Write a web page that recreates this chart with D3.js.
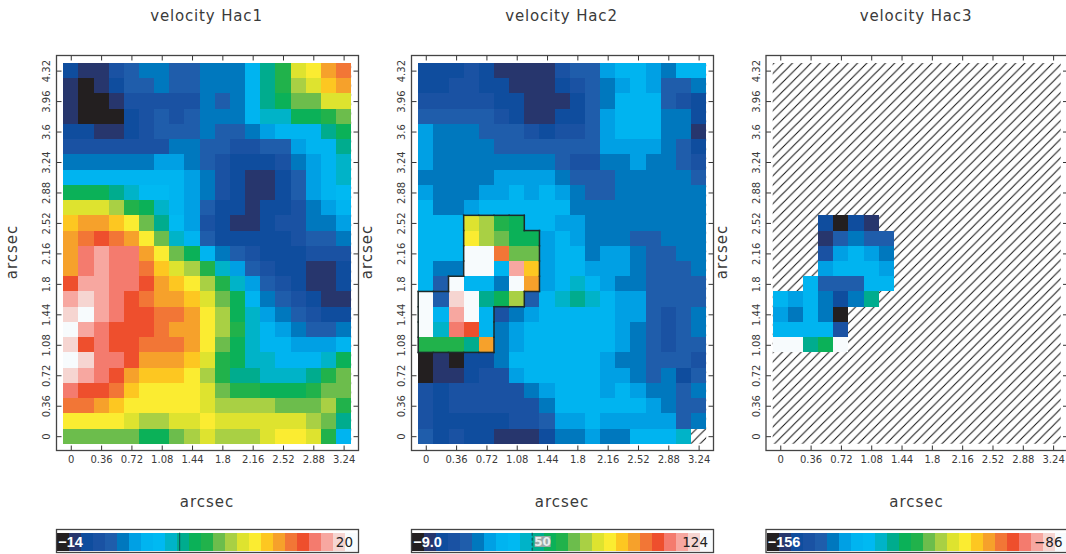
<!DOCTYPE html>
<html>
<head>
<meta charset="utf-8">
<script src="https://cdn.jsdelivr.net/npm/d3@7"></script>
<style>
  html, body { margin: 0; padding: 0; background: #fff; overflow: hidden; }
  text { font-family: "DejaVu Sans", sans-serif; fill: #3a3a3a; }
</style>
</head>
<body>
<div id="plot"></div>
<script>
// Colour table of the images (level 0 .. 24)
const levelColors = [
  "#231f20", "#27366d", "#0f4d9e", "#1a52a3", "#1f5dab", "#0078be", "#00a0e4", "#00b4f0",
  "#00b9f2", "#00b3c8", "#00ac8e", "#0bb158", "#21b24b", "#6cbd4c", "#a9d044", "#dee32f",
  "#fbec31", "#fdc721", "#f6a12b", "#f27636", "#ee4f2d", "#f47b6e", "#f7a7a0", "#f6d5d1",
  "#f7fbfd"
];

// Pixel levels, first row is the top of the image (y = 4.32)
const hac1 = [
  [2,1,1,3,4,5,5,4,4,5,5,5,7,10,12,15,16,18,19],
  [1,0,1,2,4,4,5,4,4,5,5,5,7,10,12,14,15,17,18],
  [1,0,0,1,3,3,3,3,3,5,4,5,7,10,11,13,13,15,15],
  [1,0,0,0,2,3,4,3,4,5,5,5,7,9,9,11,11,12,13],
  [2,2,1,1,2,3,4,4,4,5,4,4,5,6,7,7,7,10,11],
  [3,3,3,3,3,3,3,5,5,4,4,3,3,4,4,6,7,7,10],
  [5,5,5,5,5,5,6,6,5,4,3,2,2,2,3,5,6,7,9],
  [7,7,7,7,7,7,7,7,6,5,3,2,1,1,2,4,6,7,9],
  [11,11,11,10,9,8,8,7,6,5,3,2,1,1,2,4,6,7,8],
  [15,15,15,14,12,11,9,7,6,4,2,2,1,2,2,3,5,6,7],
  [17,18,18,17,16,13,10,8,6,3,2,1,1,2,3,3,5,5,6],
  [18,19,20,19,18,16,13,9,7,4,2,2,2,2,2,3,4,4,5],
  [18,21,22,21,21,18,16,13,11,7,5,4,3,2,2,2,3,3,3],
  [18,21,22,21,21,19,17,15,14,12,9,6,4,3,2,2,1,1,2],
  [20,22,22,21,21,20,18,17,16,14,12,9,6,4,3,2,1,1,2],
  [22,23,22,21,20,19,18,18,17,15,13,11,7,5,4,3,2,1,1],
  [23,24,22,21,20,20,19,19,18,16,14,11,9,6,5,4,3,2,2],
  [24,22,21,20,20,20,19,18,18,16,14,12,9,7,6,5,4,4,5],
  [23,20,21,20,20,19,19,19,18,16,13,11,9,7,7,6,6,6,7],
  [24,23,21,21,20,18,18,18,17,15,12,11,9,9,7,7,7,9,11],
  [23,22,21,20,18,17,17,17,16,14,12,10,10,9,9,9,10,12,13],
  [21,20,20,19,17,16,16,16,16,15,13,12,12,11,11,11,12,13,13],
  [19,19,18,17,16,16,16,16,16,15,14,14,14,14,13,13,13,14,12],
  [16,16,16,16,15,14,14,15,15,16,15,15,15,15,15,15,14,13,10],
  [13,13,13,13,13,11,11,13,14,15,14,14,14,15,16,16,15,12,7]
];

const hac2 = [
  [2,2,2,3,2,1,1,1,1,3,4,4,6,7,7,6,5,7,7],
  [2,2,3,3,2,2,1,1,1,2,3,4,5,6,7,6,4,4,5],
  [3,3,3,3,3,2,2,1,1,1,2,4,5,7,7,7,4,3,2],
  [4,4,4,4,4,3,2,1,1,2,2,4,6,7,7,7,5,5,2],
  [6,5,5,5,4,4,4,3,2,3,3,4,6,7,7,7,5,5,1],
  [6,5,5,5,5,4,4,4,4,4,4,4,6,6,6,6,5,4,2],
  [6,5,5,5,5,5,5,5,5,4,3,3,5,5,6,5,5,4,3],
  [5,5,5,5,5,6,6,6,6,5,4,4,4,5,5,5,5,5,4],
  [6,5,5,5,6,6,7,6,7,6,5,4,4,5,5,5,5,5,5],
  [7,5,5,6,7,7,7,7,7,7,5,5,5,5,5,5,5,5,5],
  [7,7,7,15,14,12,11,7,7,6,6,5,5,5,5,5,5,5,5],
  [7,7,7,16,14,13,11,11,6,7,6,5,5,5,4,4,5,5,5],
  [7,7,7,24,24,19,13,13,6,7,7,5,6,6,5,4,4,5,5],
  [7,5,5,24,24,7,22,17,6,7,7,6,6,6,5,4,4,4,5],
  [7,4,24,7,7,5,24,18,6,7,9,7,6,5,5,4,4,4,4],
  [24,4,23,24,10,11,14,4,7,9,10,9,7,6,6,4,4,4,4],
  [24,7,22,24,7,3,5,6,7,7,7,7,7,6,6,4,3,4,5],
  [24,9,21,20,7,5,6,7,7,7,7,7,7,6,5,4,3,4,5],
  [12,12,12,10,18,5,6,7,7,7,7,7,7,6,5,4,3,4,4],
  [0,1,0,2,2,5,7,7,7,7,7,7,6,5,5,4,4,4,3],
  [0,1,1,2,3,3,6,7,7,7,7,7,6,6,5,4,5,2,4],
  [3,2,3,3,3,3,3,5,6,7,7,7,6,7,6,5,5,4,5],
  [3,2,3,3,3,3,3,3,5,7,7,7,7,7,7,6,5,4,4],
  [3,2,2,2,2,2,3,3,4,6,6,7,6,6,6,6,6,4,5],
  [4,2,3,2,2,1,1,1,2,5,5,6,5,5,7,7,7,9,null]
];

const n = null;
const hac3 = [
  [n,n,n,n,n,n,n,n,n,n,n,n,n,n,n,n,n,n,n],
  [n,n,n,n,n,n,n,n,n,n,n,n,n,n,n,n,n,n,n],
  [n,n,n,n,n,n,n,n,n,n,n,n,n,n,n,n,n,n,n],
  [n,n,n,n,n,n,n,n,n,n,n,n,n,n,n,n,n,n,n],
  [n,n,n,n,n,n,n,n,n,n,n,n,n,n,n,n,n,n,n],
  [n,n,n,n,n,n,n,n,n,n,n,n,n,n,n,n,n,n,n],
  [n,n,n,n,n,n,n,n,n,n,n,n,n,n,n,n,n,n,n],
  [n,n,n,n,n,n,n,n,n,n,n,n,n,n,n,n,n,n,n],
  [n,n,n,n,n,n,n,n,n,n,n,n,n,n,n,n,n,n,n],
  [n,n,n,n,n,n,n,n,n,n,n,n,n,n,n,n,n,n,n],
  [n,n,n,2,0,2,1,n,n,n,n,n,n,n,n,n,n,n,n],
  [n,n,n,1,4,5,4,4,n,n,n,n,n,n,n,n,n,n,n],
  [n,n,n,3,6,7,6,5,n,n,n,n,n,n,n,n,n,n,n],
  [n,n,n,6,7,7,7,6,n,n,n,n,n,n,n,n,n,n,n],
  [n,n,7,4,4,4,7,7,n,n,n,n,n,n,n,n,n,n,n],
  [7,6,7,5,2,5,10,n,n,n,n,n,n,n,n,n,n,n,n],
  [6,5,7,5,0,n,n,n,n,n,n,n,n,n,n,n,n,n,n],
  [7,7,7,7,3,n,n,n,n,n,n,n,n,n,n,n,n,n,n],
  [24,24,10,11,24,n,n,n,n,n,n,n,n,n,n,n,n,n,n],
  [n,n,n,n,n,n,n,n,n,n,n,n,n,n,n,n,n,n,n],
  [n,n,n,n,n,n,n,n,n,n,n,n,n,n,n,n,n,n,n],
  [n,n,n,n,n,n,n,n,n,n,n,n,n,n,n,n,n,n,n],
  [n,n,n,n,n,n,n,n,n,n,n,n,n,n,n,n,n,n,n],
  [n,n,n,n,n,n,n,n,n,n,n,n,n,n,n,n,n,n,n],
  [n,n,n,n,n,n,n,n,n,n,n,n,n,n,n,n,n,n,n]
];

// Region of Hac2 with the black outline: [row from top, first col, last col]
const hac2Outline = [
  [10,3,6], [11,3,7], [12,3,7], [13,3,7], [14,2,7], [15,0,6], [16,0,4], [17,0,4], [18,0,4]
];

const xTicks = [0, 0.36, 0.72, 1.08, 1.44, 1.8, 2.16, 2.52, 2.88, 3.24];
const yTicks = [0, 0.36, 0.72, 1.08, 1.44, 1.8, 2.16, 2.52, 2.88, 3.24, 3.6, 3.96, 4.32];
const pixelSize = 0.18;

const titles = ["velocity Hac1", "velocity Hac2", "velocity Hac3"];
const images = [hac1, hac2, hac3];
const barMin = ["\u221214", "\u22129.0", "\u2212156"];
const barMax = ["20", "124", "\u221286"];
const barMarks = [10.2, 10, null];   // level position of the contour mark in the colour bar
const panelLeft = [56.5, 411.5, 766];

const width = 1066;
const height = 554;
const frameW = 302;
const frameTop = 55.5;
const frameBottom = 450.5;
const imgW = 288;
const imgTop = 63;
const imgBottom = 443.8;

const color = d3.scaleOrdinal(d3.range(levelColors.length), levelColors);

const svg = d3.select("#plot")
  .append("svg")
  .attr("width", width)
  .attr("height", height)
  .style("display", "block");

// Hatching for blank pixels
svg.append("defs").append("pattern")
  .attr("id", "hatch")
  .attr("patternUnits", "userSpaceOnUse")
  .attr("width", 9.3)
  .attr("height", 9.3)
  .append("path")
  .attr("d", "M-1,1 L1,-1 M0,9.3 L9.3,0 M8.3,10.3 L10.3,8.3")
  .attr("stroke", "#111")
  .attr("stroke-width", 1)
  .attr("fill", "none");

titles.forEach((title, p) => {
  const left = panelLeft[p];
  const imgLeft = left + 6.7;
  const g = svg.append("g");

  const x = d3.scaleLinear()
    .domain([-pixelSize / 2, 3.24 + pixelSize / 2])
    .range([imgLeft, imgLeft + imgW]);
  const y = d3.scaleLinear()
    .domain([-pixelSize / 2, 4.32 + pixelSize / 2])
    .range([imgBottom, imgTop]);

  // pixel edges in screen space
  const colX = c => x(c * pixelSize - pixelSize / 2);
  const rowY = r => y(4.32 + pixelSize / 2 - r * pixelSize);

  g.append("rect")
    .attr("x", imgLeft).attr("y", imgTop)
    .attr("width", imgW).attr("height", imgBottom - imgTop)
    .attr("fill", "url(#hatch)");

  const cells = [];
  images[p].forEach((row, r) => row.forEach((v, c) => {
    if (v !== null) cells.push({ r, c, v });
  }));

  g.append("g")
    .attr("shape-rendering", "crispEdges")
    .selectAll("rect")
    .data(cells)
    .enter().append("rect")
    .attr("x", d => colX(d.c))
    .attr("y", d => rowY(d.r))
    .attr("width", d => colX(d.c + 1) - colX(d.c))
    .attr("height", d => rowY(d.r + 1) - rowY(d.r))
    .attr("fill", d => color(d.v));

  // Outline of the Hac2 bright region
  if (p === 1) {
    const inside = (r, c) => hac2Outline.some(o => o[0] === r && c >= o[1] && c <= o[2]);
    const segs = [];
    for (let r = 10; r <= 18; r++) {
      for (let c = 0; c <= 7; c++) {
        if (!inside(r, c)) continue;
        if (!inside(r - 1, c)) segs.push([colX(c), rowY(r), colX(c + 1), rowY(r)]);
        if (!inside(r + 1, c)) segs.push([colX(c), rowY(r + 1), colX(c + 1), rowY(r + 1)]);
        if (!inside(r, c - 1)) segs.push([colX(c), rowY(r), colX(c), rowY(r + 1)]);
        if (!inside(r, c + 1)) segs.push([colX(c + 1), rowY(r), colX(c + 1), rowY(r + 1)]);
      }
    }
    g.append("g").selectAll("line")
      .data(segs)
      .enter().append("line")
      .attr("x1", d => d[0]).attr("y1", d => d[1])
      .attr("x2", d => d[2]).attr("y2", d => d[3])
      .attr("stroke", "#1c2a2a")
      .attr("stroke-width", 1.5)
      .attr("stroke-linecap", "square");
  }

  // Axes, ticks point inwards on all four sides
  const tickLen = 5;
  const axisG = g.append("g");
  const bottom = axisG.append("g")
    .attr("transform", `translate(0,${frameBottom})`)
    .call(d3.axisBottom(x).tickValues(xTicks).tickSize(-tickLen).tickPadding(6).tickFormat(d3.format("~g")));
  axisG.append("g")
    .attr("transform", `translate(0,${frameTop})`)
    .call(d3.axisTop(x).tickValues(xTicks).tickSize(-tickLen).tickFormat(""));
  const leftAxis = axisG.append("g")
    .attr("transform", `translate(${left},0)`)
    .call(d3.axisLeft(y).tickValues(yTicks).tickSize(-tickLen).tickFormat(d3.format("~g")));
  axisG.append("g")
    .attr("transform", `translate(${left + frameW},0)`)
    .call(d3.axisRight(y).tickValues(yTicks).tickSize(-tickLen).tickFormat(""));

  axisG.selectAll(".domain").remove();
  axisG.selectAll("line").attr("stroke", "#333").attr("stroke-width", 1);
  bottom.selectAll("text")
    .attr("font-family", "DejaVu Sans")
    .attr("font-size", 10)
    .attr("y", 5.5)
    .attr("dy", "0.71em");
  leftAxis.selectAll("text")
    .attr("font-family", "DejaVu Sans")
    .attr("font-size", 10)
    .attr("x", null)
    .attr("dy", null)
    .attr("text-anchor", "middle")
    .attr("transform", "translate(-6.5,0) rotate(-90)");

  g.append("rect")
    .attr("x", left).attr("y", frameTop)
    .attr("width", frameW).attr("height", frameBottom - frameTop)
    .attr("fill", "none")
    .attr("stroke", "#444")
    .attr("stroke-width", 1.3);

  // Titles
  const label = (txt, tx, ty, rot) => g.append("text")
    .attr("transform", `translate(${tx},${ty})` + (rot ? " rotate(-90)" : ""))
    .attr("text-anchor", "middle")
    .attr("font-size", 15)
    .attr("letter-spacing", 1)
    .text(txt);
  label(title, left + 150, 21, false).attr("letter-spacing", 0.85);
  label("arcsec", left + 150.5, 507, false);
  label("arcsec", left - 39.5, 252, true);

  // Colour bar
  const barLeft = left + 0.7;
  const bar = d3.scaleLinear().domain([0, levelColors.length]).range([barLeft, barLeft + 300]);
  const barG = svg.append("g");

  barG.append("g")
    .attr("shape-rendering", "crispEdges")
    .selectAll("rect")
    .data(levelColors)
    .enter().append("rect")
    .attr("x", (d, i) => bar(i))
    .attr("y", 532.7)
    .attr("width", (d, i) => bar(i + 1) - bar(i))
    .attr("height", 18.3)
    .attr("fill", d => d);

  barG.append("rect")
    .attr("x", left).attr("y", 529.5)
    .attr("width", frameW).attr("height", 23)
    .attr("fill", "none")
    .attr("stroke", "#444")
    .attr("stroke-width", 1.3);

  if (barMarks[p] !== null) {
    barG.append("line")
      .attr("x1", bar(barMarks[p])).attr("x2", bar(barMarks[p]))
      .attr("y1", 532.7).attr("y2", 551)
      .attr("stroke", "#0c5a5a")
      .attr("stroke-width", 1.2)
      .attr("stroke-dasharray", p === 1 ? "3,2" : null);
  }
  if (p === 1) {
    // the contour level label, printed twice over itself in the original
    barG.append("rect")
      .attr("x", bar(10.2)).attr("y", 536)
      .attr("width", 16).attr("height", 11)
      .attr("fill", "#9aa8a6");
    barG.append("text")
      .attr("x", bar(10.2) + 8).attr("y", 546)
      .attr("text-anchor", "middle")
      .attr("font-size", 12)
      .attr("font-weight", "bold")
      .style("fill", "#e8eeee")
      .text("50");
  }

  barG.append("text")
    .attr("x", barLeft + 1).attr("y", 547)
    .attr("font-family", "Liberation Sans")
    .style("font-family", "Liberation Sans")
    .attr("font-size", 14.5)
    .attr("font-weight", "bold")
    .style("fill", "#fff")
    .text(barMin[p]);
  barG.append("text")
    .attr("x", left + frameW - 5.5).attr("y", 547)
    .attr("text-anchor", "end")
    .attr("font-size", 13.5)
    .style("fill", "#222")
    .text(barMax[p]);
});
</script>
</body>
</html>
